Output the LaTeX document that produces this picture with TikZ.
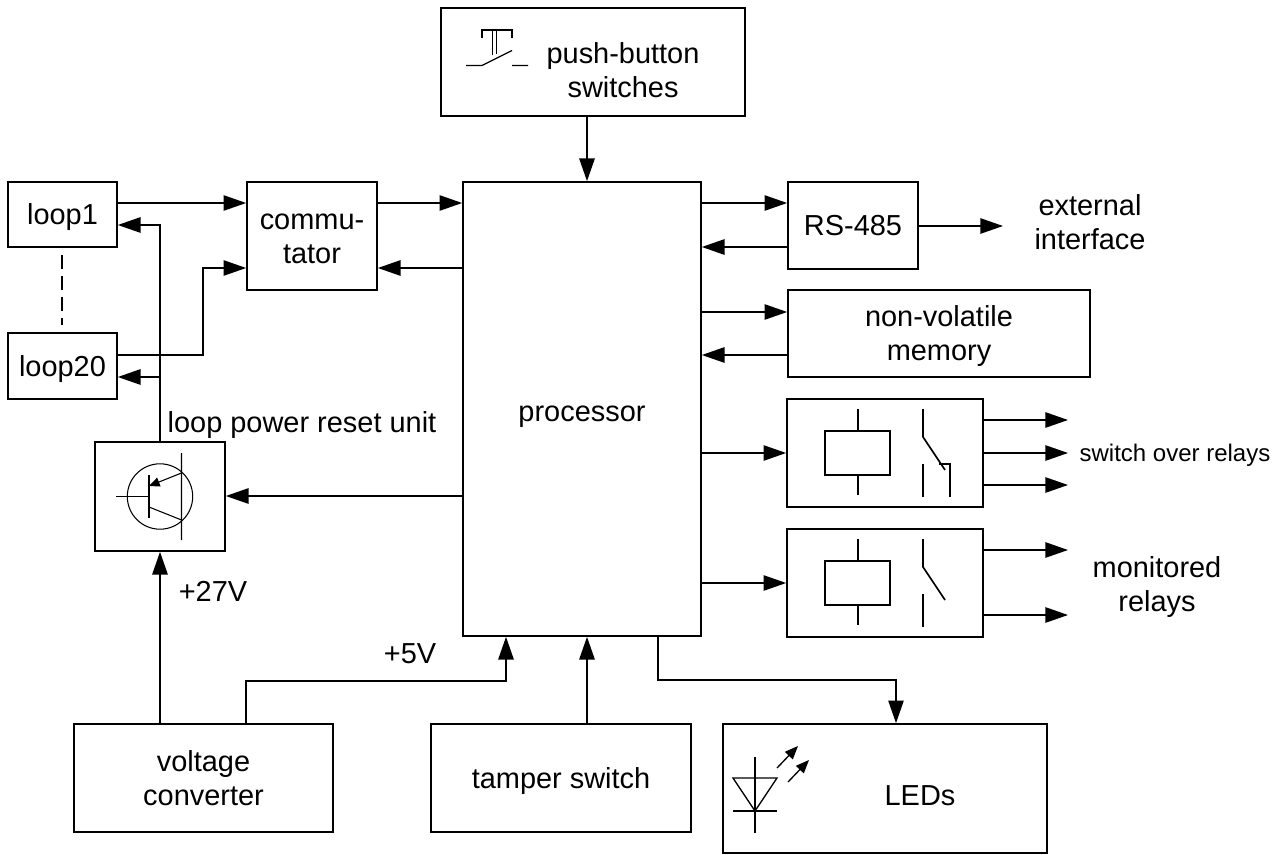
\documentclass[tikz,border=0pt]{standalone}
\usepackage{fontspec}
\setmainfont{Liberation Sans}
\usetikzlibrary{arrows.meta}
\tikzset{
  box/.style 2 args={draw, line width=1.25pt, inner sep=0pt, text depth=0pt, minimum width=#1*0.75pt, minimum height=#2*0.75pt, align=center},
  txt/.style={inner sep=0pt, text depth=0pt, align=center},
  wire/.style={line width=1.25pt},
  conn/.style={wire, -{Triangle[length=17pt, width=11.5pt]}},
  sym/.style={line width=1pt},
  thin sym/.style={line width=0.8pt}
}
\begin{document}
\begin{tikzpicture}[x=0.75pt, y=-0.75pt, font=\fontsize{21.7}{25.5}\selectfont]
  \useasboundingbox (0,0) rectangle (1284,855);

  % Blocks
  \node[box={304}{108}] (push) at (593,62) {};
  \node[box={109}{65}] (loopone) at (62.5,214.5) {loop1};
  \node[box={109}{66}] (looptwenty) at (62.5,366) {loop20};
  \node[box={130}{108}, text height=41.5pt] (commut) at (312,236) {commu-\\tator};
  \node[box={238}{454}, text height=19pt] (proc) at (582,409) {processor};
  \node[box={130}{87}] (rs) at (853,225.5) {RS-485};
  \node[box={302}{87}] (nvm) at (939,333.5) {non-volatile\\memory};
  \node[box={196}{108}] (relaya) at (885,453) {};
  \node[box={196}{108}] (relayb) at (885,583) {};
  \node[box={130}{109}] (trans) at (160,496.5) {};
  \node[box={259}{108}] (conv) at (203.5,778) {voltage\\converter};
  \node[box={260}{108}] (tamper) at (561,778) {tamper switch};
  \node[box={324}{129}] (leds) at (885,788.5) {};

  % Labels
  \node[txt] (pushtxt) at (623,70) {push-button\\switches};
  \node[txt] (ledstxt) at (920,796) {LEDs};
  \node[txt] (ext) at (1090,222) {external\\interface};
  \node[txt] (unit) at (302,422) {loop power reset unit};
  \node[txt] (vhigh) at (213,591) {+27V};
  \node[txt] (vlow) at (410,654) {+5V};
  \node[txt, font=\fontsize{18}{22}\selectfont] (over) at (1175,453) {switch over relays};
  \node[txt] (mon) at (1157,584) {monitored\\relays};
  \coordinate (extend) at (1003,226);
  \coordinate (relend) at (1068,0);

  % Connectors
  \draw[conn] (push.south -| 587,0) -- (proc.north -| 587,0);
  \draw[conn] (loopone.east |- 0,203) -- (commut.west |- 0,203);
  \draw[conn] (looptwenty.east |- 0,355) -- (203,355) -- (203,268) -- (commut.west |- 0,268);
  \draw[conn] (trans.north) -- (trans.north |- 0,225) -- (loopone.east |- 0,225);
  \draw[conn] (trans.north |- 0,377) -- (looptwenty.east |- 0,377);
  \draw[conn] (commut.east |- 0,203) -- (proc.west |- 0,203);
  \draw[conn] (proc.west |- 0,268) -- (commut.east |- 0,268);
  \draw[conn] (proc.east |- 0,203) -- (rs.west |- 0,203);
  \draw[conn] (rs.west |- 0,247) -- (proc.east |- 0,247);
  \draw[conn] (rs.east |- extend) -- (extend);
  \draw[conn] (proc.east |- 0,312) -- (nvm.west |- 0,312);
  \draw[conn] (nvm.west |- 0,355) -- (proc.east |- 0,355);
  \draw[conn] (proc.east |- 0,453) -- (relaya.west |- 0,453);
  \draw[conn] (proc.east |- 0,583) -- (relayb.west |- 0,583);
  \draw[conn] (proc.west |- 0,496) -- (trans.east |- 0,496);
  \foreach \y in {420, 453, 485} {
    \draw[conn] (relaya.east |- 0,\y) -- (relend |- 0,\y);
  }
  \foreach \y in {550, 615} {
    \draw[conn] (relayb.east |- 0,\y) -- (relend |- 0,\y);
  }
  \draw[conn] (conv.north -| trans.south) -- (trans.south);
  \draw[conn] (conv.north -| 246,0) -- (246,681) -- (506,681) -- (proc.south -| 506,0);
  \draw[conn] (tamper.north -| 587,0) -- (proc.south -| 587,0);
  \draw[conn] (proc.south -| 658,0) -- (658,680) -- (896,680) -- (leds.north -| 896,0);
  \draw[wire, dash pattern=on 10.5pt off 5.25pt, shorten <=5.25pt, shorten >=5.25pt] (loopone.south -| 62,0) -- (looptwenty.north -| 62,0);

  % Relay symbols
  \foreach \t in {0, 130} {
    \begin{scope}[yshift=-\t*0.75pt, wire]
      \draw (825,431) rectangle (890,475);
      \draw (858,409) -- (858,431) (858,475) -- (858,495);
      \draw (923,409) -- (923,437) -- (945,470);
      \draw (923,464) -- (923,497);
    \end{scope}
  }
  \draw[wire] (939,464) -- (950,464) -- (950,497);

  % Transistor
  \draw[thin sym] (trans.center) circle [radius=32.7];
  \draw[thin sym] (116,496.5) -- (149,496.5);
  \draw[sym] (149,475) -- (149,518);
  \draw[thin sym] (149,507) -- (181.5,520) (181.5,453) -- (181.5,540);
  \draw[thin sym, -{Triangle[length=8pt, width=7pt]}] (181.5,473) -- (149,486);

  % Push button
  \draw[sym] (466,65.5) -- (482,65.5) -- (512,50.5) (512,65.5) -- (528,65.5);
  \draw[sym] (482,38) -- (482,30) -- (512,30) -- (512,38);
  \draw[sym] (492.5,30) -- (492.5,55) (496.7,30) -- (496.7,54);

  % LED
  \draw[sym] (755,757) -- (755,833);
  \draw[sym] (733,778) -- (777,778) -- (755,811) -- cycle;
  \draw[sym] (733,811) -- (777,811);
  \draw[sym, -{Triangle[length=10pt, width=8pt]}] (777,768) -- (798,746);
  \draw[sym, -{Triangle[length=10pt, width=8pt]}] (788,782) -- (809,760);
\end{tikzpicture}
\end{document}
